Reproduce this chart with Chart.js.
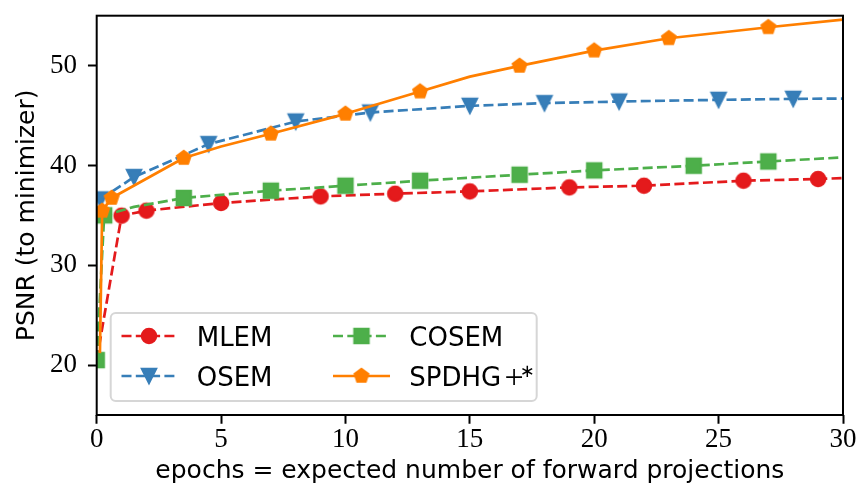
<!DOCTYPE html>
<html>
<head>
<meta charset="utf-8">
<script src="https://cdn.jsdelivr.net/npm/chart.js@4.4.1/dist/chart.umd.min.js"></script>
<style>
  html, body { margin: 0; padding: 0; background: #ffffff; }
  #wrap { width: 857px; height: 496px; }
</style>
</head>
<body>
<div id="wrap"><canvas id="c" width="857" height="496"></canvas></div>
<script>
// ---------------- data ----------------
const xTicks = [0, 5, 10, 15, 20, 25, 30];
const xTickLabels = ['0', '5', '10', '15', '20', '25', '30'];
const yTicks = [20, 30, 40, 50];
const yTickLabels = ['20', '30', '40', '50'];

const seriesNames = ['MLEM', 'OSEM', 'COSEM', 'SPDHG'];

const mlemEpochs = [0, 1, 2, 5, 9, 12, 15, 19, 22, 26, 29, 30];
const mlemPSNR   = [20.5, 34.97, 35.47, 36.24, 36.9, 37.17, 37.4, 37.8, 37.97, 38.47, 38.64, 38.74];
const mlemMarked = [1, 2, 5, 9, 12, 15, 19, 22, 26, 29];

const osemEpochs = [0.15, 1.5, 4.5, 8, 11, 15, 18, 21, 25, 28, 30];
const osemPSNR   = [36.6, 38.84, 42.14, 44.4, 45.3, 45.97, 46.24, 46.4, 46.57, 46.67, 46.7];
const osemMarked = [0.15, 1.5, 4.5, 8, 11, 15, 18, 21, 25, 28];

const cosemEpochs = [0, 0.3, 1.5, 3.5, 7, 10, 13, 17, 20, 24, 27, 30];
const cosemPSNR   = [20.5, 35.0, 35.85, 36.74, 37.47, 37.97, 38.47, 39.07, 39.5, 39.97, 40.4, 40.8];
const cosemMarked = [0, 0.3, 3.5, 7, 10, 13, 17, 20, 24, 27];

const spdhgEpochs = [0.13, 0.22, 0.6, 3.5, 5, 7, 10, 13, 15, 17, 20, 23, 27, 30];
const spdhgPSNR   = [21.2, 35.45, 36.74, 40.74, 41.9, 43.17, 45.17, 47.4, 48.9, 49.97, 51.5, 52.74, 53.84, 54.6];
const spdhgMarked = [0.22, 0.6, 3.5, 7, 10, 13, 17, 20, 23, 27];

// ---------------- styling helpers ----------------
const COLORS = { MLEM: '#e41a1c', OSEM: '#377eb8', COSEM: '#4daf4a', SPDHG: '#ff7f00' };

function markerCanvas(kind, color) {
  const ms = 14.5, mew = 2, S = 28;
  const c = document.createElement('canvas');
  c.width = S; c.height = S;
  const g = c.getContext('2d');
  g.translate(S / 2, S / 2);
  g.fillStyle = color; g.strokeStyle = color;
  g.lineWidth = mew; g.lineJoin = 'miter';
  const r = ms / 2;
  g.beginPath();
  if (kind === 'circle') {
    g.arc(0, 0, r, 0, Math.PI * 2);
  } else if (kind === 'square') {
    g.rect(-r, -r, ms, ms);
  } else if (kind === 'tri_down') {
    g.moveTo(0, r); g.lineTo(-r, -r); g.lineTo(r, -r); g.closePath();
  } else if (kind === 'pentagon') {
    for (let i = 0; i < 5; i++) {
      const t = -Math.PI / 2 + i * 2 * Math.PI / 5;
      if (i === 0) g.moveTo(r * Math.cos(t), r * Math.sin(t));
      else g.lineTo(r * Math.cos(t), r * Math.sin(t));
    }
    g.closePath();
  }
  g.fill(); g.stroke();
  return c;
}

const MARKERS = {
  MLEM: markerCanvas('circle', COLORS.MLEM),
  OSEM: markerCanvas('tri_down', COLORS.OSEM),
  COSEM: markerCanvas('square', COLORS.COSEM),
  SPDHG: markerCanvas('pentagon', COLORS.SPDHG)
};
const DASH = [10, 4.3];
const LW = 2.7;

function makeDataset(name, xs, ys, marked, dashed, order) {
  return {
    label: name,
    data: xs.map((x, i) => ({ x: x, y: ys[i] })),
    borderColor: COLORS[name],
    backgroundColor: COLORS[name],
    borderWidth: LW,
    borderDash: dashed ? DASH : [],
    borderCapStyle: 'butt',
    borderJoinStyle: 'round',
    tension: 0,
    fill: false,
    pointStyle: MARKERS[name],
    pointRadius: (ctx) => (marked.indexOf(xs[ctx.dataIndex]) >= 0 ? 8 : 0),
    pointHoverRadius: 0,
    clip: 0,
    order: order
  };
}

const datasets = [
  makeDataset('MLEM', mlemEpochs, mlemPSNR, mlemMarked, true, 4),
  makeDataset('OSEM', osemEpochs, osemPSNR, osemMarked, true, 3),
  makeDataset('COSEM', cosemEpochs, cosemPSNR, cosemMarked, true, 2),
  makeDataset('SPDHG', spdhgEpochs, spdhgPSNR, spdhgMarked, false, 1)
];

// ---------------- frame + legend plugin ----------------
function roundRectPath(ctx, x, y, w, h, r) {
  ctx.beginPath();
  ctx.moveTo(x + r, y);
  ctx.lineTo(x + w - r, y);
  ctx.arcTo(x + w, y, x + w, y + r, r);
  ctx.lineTo(x + w, y + h - r);
  ctx.arcTo(x + w, y + h, x + w - r, y + h, r);
  ctx.lineTo(x + r, y + h);
  ctx.arcTo(x, y + h, x, y + h - r, r);
  ctx.lineTo(x, y + r);
  ctx.arcTo(x, y, x + r, y, r);
  ctx.closePath();
}

const frameAndLegend = {
  id: 'frameAndLegend',
  afterDatasetsDraw(chart) {
    const { ctx, chartArea: a } = chart;
    ctx.save();
    ctx.strokeStyle = '#000000';
    ctx.lineWidth = 2;
    ctx.strokeRect(a.left, a.top, a.right - a.left, a.bottom - a.top);
    ctx.restore();
  },
  afterDraw(chart) {
    const ctx = chart.ctx;
    const a = chart.chartArea;
    const bx = a.left + 14, by = 313, bw = 426, bh = 88;
    ctx.save();
    roundRectPath(ctx, bx, by, bw, bh, 5);
    ctx.fillStyle = 'rgba(255,255,255,0.8)';
    ctx.fill();
    ctx.strokeStyle = 'rgba(204,204,204,0.8)';
    ctx.lineWidth = 2;
    ctx.stroke();

    const rows = [336, 376];
    const cols = [
      { l0: 121.5, l1: 176.5, m: 149, t: 196.7 },
      { l0: 333, l1: 390, m: 361.5, t: 409.3 }
    ];
    const entries = [
      { name: 'MLEM', col: 0, row: 0, dashed: true },
      { name: 'OSEM', col: 0, row: 1, dashed: true },
      { name: 'COSEM', col: 1, row: 0, dashed: true },
      { name: 'SPDHG', col: 1, row: 1, dashed: false }
    ];
    entries.forEach(e => {
      const c = cols[e.col], y = rows[e.row];
      ctx.save();
      ctx.strokeStyle = COLORS[e.name];
      ctx.lineWidth = LW;
      ctx.lineCap = 'butt';
      ctx.setLineDash(e.dashed ? DASH : []);
      ctx.beginPath();
      ctx.moveTo(c.l0, y); ctx.lineTo(c.l1, y);
      ctx.stroke();
      ctx.restore();
      Chart.helpers.drawPoint(ctx, { pointStyle: MARKERS[e.name], radius: 8, rotation: 0, borderWidth: 0 }, c.m, y);

      ctx.fillStyle = '#000000';
      ctx.textAlign = 'left';
      ctx.textBaseline = 'alphabetic';
      ctx.font = '26px "DejaVu Sans"';
      if (e.name === 'SPDHG') {
        const txt = 'SPDHG';
        ctx.fillText(txt, c.t, y + 9.5);
        const w = ctx.measureText(txt).width;
        ctx.textAlign = 'center';
        ctx.font = '34px "Liberation Serif"';
        ctx.fillText('+', c.t + w + 13, y + 12);
        ctx.font = '18px "DejaVu Sans"';
        ctx.textBaseline = 'middle';
        ctx.fillText('\u2217', c.t + w + 26, y - 4);
      } else {
        ctx.fillText(e.name, c.t, y + 9.5);
      }
    });
    ctx.restore();
  }
};

// ---------------- chart ----------------
new Chart(document.getElementById('c'), {
  type: 'line',
  data: { datasets: datasets },
  options: {
    responsive: false,
    animation: false,
    devicePixelRatio: 1,
    events: [],
    layout: { padding: { left: 0, top: 15.7, right: 14, bottom: 0 } },
    plugins: { legend: { display: false }, tooltip: { enabled: false }, title: { display: false } },
    scales: {
      x: {
        type: 'linear', min: 0, max: 30,
        afterBuildTicks: s => { s.ticks = xTicks.map(v => ({ value: v })); },
        afterFit: s => { s.height = 81; s.paddingLeft = 0; s.paddingRight = 0; },
        grid: { display: true, drawOnChartArea: false, drawTicks: true, tickLength: 8.75, tickWidth: 2, tickColor: '#000000' },
        border: { display: false },
        ticks: {
          color: '#000000', autoSkip: false, maxRotation: 0, padding: 3,
          font: { family: '"Liberation Serif"', size: 27, lineHeight: 1 },
          callback: v => xTickLabels[xTicks.indexOf(v)]
        },
        title: {
          display: true, text: 'epochs = expected number of forward projections', color: '#000000',
          font: { family: '"DejaVu Sans"', size: 25, lineHeight: 1 },
          padding: { top: 0, bottom: 12 }
        }
      },
      y: {
        type: 'linear', min: 15, max: 55,
        afterBuildTicks: s => { s.ticks = yTicks.map(v => ({ value: v })); },
        afterFit: s => { s.width = 96.7; s.paddingTop = 0; s.paddingBottom = 0; },
        grid: { display: true, drawOnChartArea: false, drawTicks: true, tickLength: 8.75, tickWidth: 2, tickColor: '#000000' },
        border: { display: false },
        ticks: {
          color: '#000000', autoSkip: false, padding: 11,
          font: { family: '"Liberation Serif"', size: 27, lineHeight: 1 },
          callback: v => yTickLabels[yTicks.indexOf(v)]
        },
        title: {
          display: true, text: 'PSNR (to minimizer)', color: '#000000',
          font: { family: '"DejaVu Sans"', size: 25, lineHeight: 1 },
          padding: { top: 14.5, bottom: 0 }
        }
      }
    }
  },
  plugins: [frameAndLegend]
});
</script>
</body>
</html>
